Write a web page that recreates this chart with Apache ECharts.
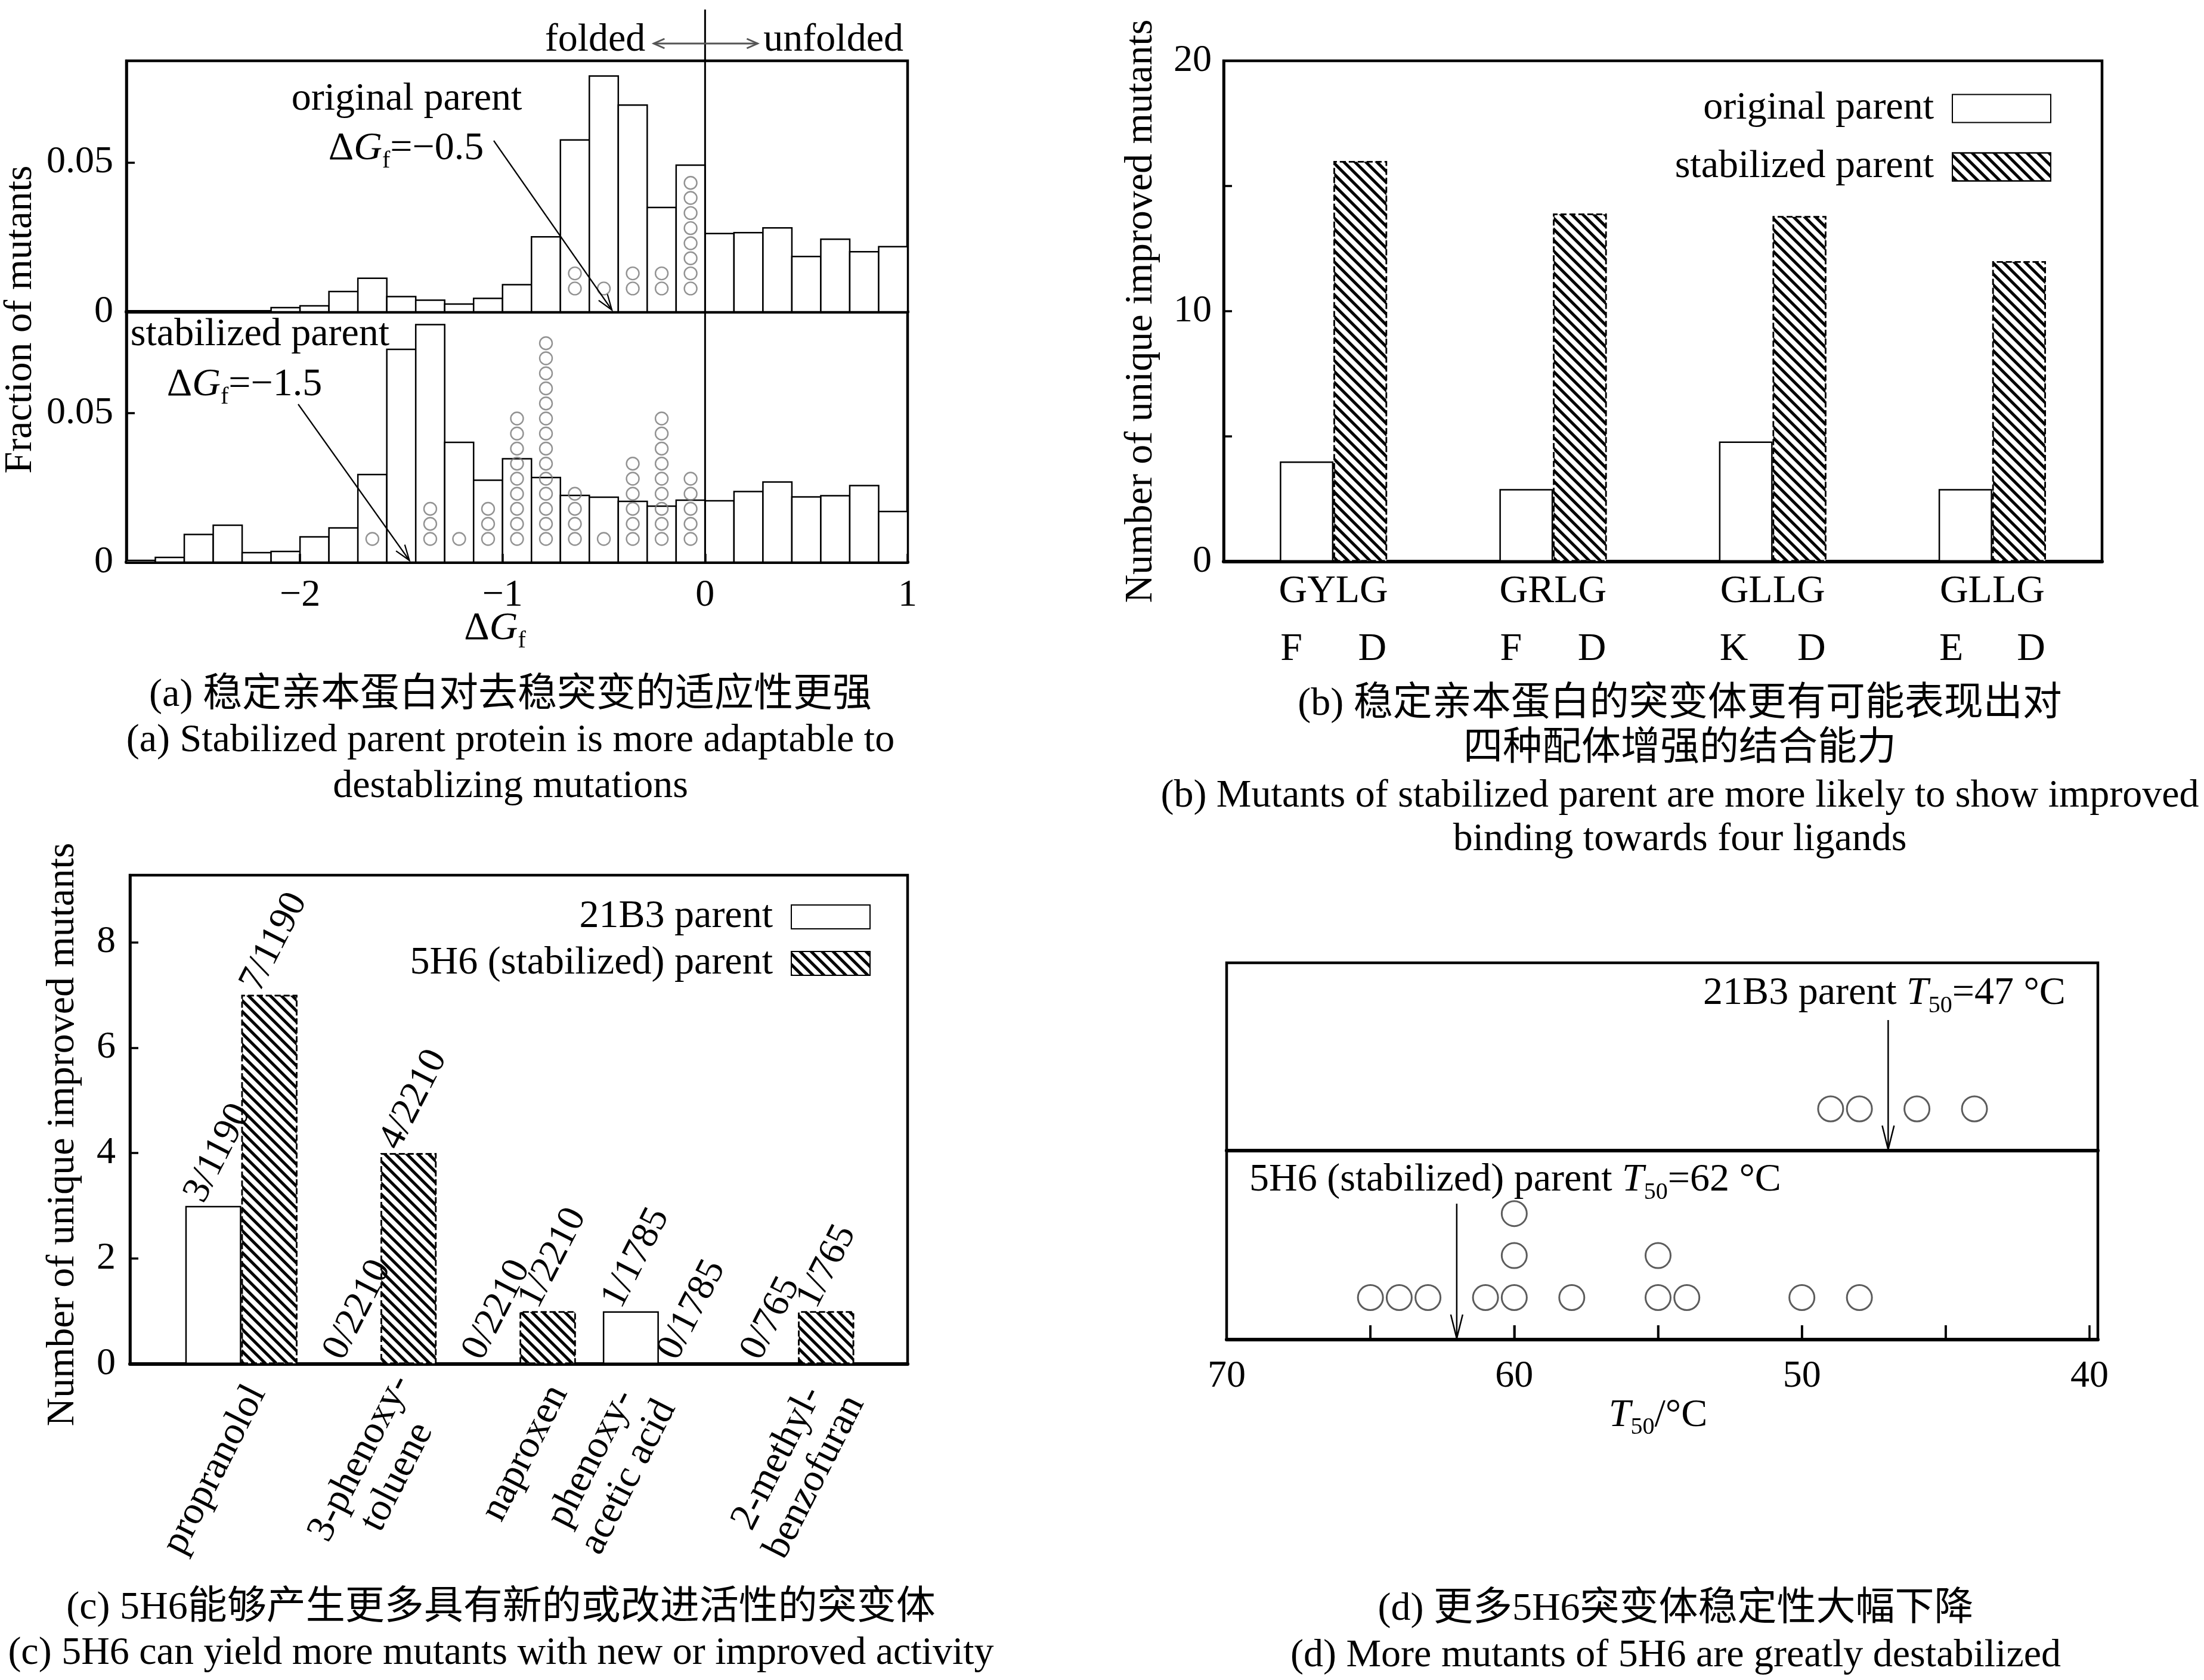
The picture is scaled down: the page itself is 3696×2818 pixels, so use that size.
<!DOCTYPE html>
<html><head><meta charset="utf-8">
<script src="https://cdn.jsdelivr.net/npm/echarts@6/dist/echarts.min.js"></script>
<style>html,body{margin:0;padding:0;background:#fff}#c{width:3696px;height:2818px}</style>
</head><body><div id="c"></div>
<script>
// ================= DATA =================
// (a) histogram: bin k covers [k/7,(k+1)/7] in ΔGf units
const binIndex = [-20,-19,-18,-17,-16,-15,-14,-13,-12,-11,-10,-9,-8,-7,-6,-5,-4,-3,-2,-1,0,1,2,3,4,5,6];
const fracOriginal   = [0,0,0,0,0,0.0014,0.0020,0.0068,0.0112,0.0051,0.0039,0.0026,0.0045,0.0091,0.0251,0.0575,0.0789,0.0692,0.0349,0.0491,0.0262,0.0265,0.0281,0.0185,0.0243,0.0201,0.0218];
const fracStabilized = [0.0006,0.0016,0.0093,0.0124,0.0032,0.0036,0.0085,0.0115,0.0294,0.0714,0.0797,0.0402,0.0275,0.0347,0.0284,0.0224,0.0218,0.0204,0.0188,0.0208,0.0206,0.0237,0.0269,0.0219,0.0223,0.0257,0.0170];
const circlesOriginal   = [0,0,0,0,0,0,0,0,0,0,0,0,0,0,0,2,1,2,2,8,0,0,0,0,0,0,0];
const circlesStabilized = [0,0,0,0,0,0,0,0,1,0,3,1,3,9,14,4,1,6,9,5,0,0,0,0,0,0,0];
const parentDG = {original: -0.46, stabilized: -1.46};

// (b)
const ligandPairs = ['GYLG','GRLG','GLLG','GLLG'];
const ligandSub = [['F','D'],['F','D'],['K','D'],['E','D']];
const originalParent   = [4, 2.9, 4.8, 2.9];
const stabilizedParent = [16, 13.9, 13.8, 12];

// (c)
const ligandsC = ['propranolol','3-phenoxy-\ntoluene','naproxen','phenoxy-\nacetic acid','2-methyl-\nbenzofuran'];
const parent21B3 = [3,0,0,1,0];
const labels21B3 = ['3/1190','0/2210','0/2210','1/1785','0/765'];
const parent5H6  = [7,4,1,0,1];
const labels5H6  = ['7/1190','4/2210','1/2210','0/1785','1/765'];

// (d)
const t50_21B3 = [49,48,46,44];
const t50_5H6  = [65,64,63,61,60,60,60,58,55,55,54,50,48];
const parentT50 = {p21B3: 47, p5H6: 62};
const dTickValues = [65,60,55,50,45];

// ================= STYLE / LAYOUT =================
const FONT = "'Liberation Serif','Times New Roman','Noto Sans CJK SC',serif";
const FS = 66, TFS = 64;
const BW = 1/7;
const A_MIN = binIndex[0]*BW, A_MAX = 1, A_TICK0 = -2;
const DOT0 = 0.0078, DOTSTEP = 0.00505;
const HATCH = {color:'#000', dashArrayX:[1,0], dashArrayY:[5,8], symbolSize:1, rotation:Math.PI/4};
// per-label nudges for the rotated (c) category labels: [rich style, extra blank lines]
const cLabelStyle = [['rp',1],['m',0],['r',0],['m2',2],['m',0]];

const histData = vals => binIndex.map((k,i)=>[k*BW,(k+1)*BW,vals[i]]);
const dotData = counts => { const o=[]; binIndex.forEach((k,i)=>{ for(let j=0;j<counts[i];j++) o.push([(k+0.5)*BW, DOT0+j*DOTSTEP]); }); return o; };
const stackDots = arr => { const seen={}; return arr.map(t=>{ seen[t]=(seen[t]||0)+1; return [t, seen[t]]; }); };

function histItem(params, api){
  const x0=api.value(0), x1=api.value(1), v=api.value(2);
  const a=api.coord([x0,v]), b=api.coord([x1,0]);
  const cs=params.coordSys;
  const r=echarts.graphic.clipRectByRect({x:a[0],y:a[1],width:b[0]-a[0],height:b[1]-a[1]},{x:cs.x,y:cs.y,width:cs.width,height:cs.height});
  if(!r) return;
  return {type:'rect', shape:r, style:{fill:'#fff', stroke:'#000', lineWidth:2.5}};
}

const A_LEFT = 212, A_W = 1310;
const aTickLeft = A_LEFT + (A_TICK0 - A_MIN)/(A_MAX - A_MIN)*A_W;
const gridBox = {show:true, borderColor:'#000', borderWidth:4.5, backgroundColor:'transparent'};
const grids = [
  Object.assign({left:A_LEFT, top:102, width:A_W, height:421}, gridBox),          //0 (a) top
  Object.assign({left:A_LEFT, top:523, width:A_W, height:420}, gridBox),          //1 (a) bottom
  Object.assign({left:2052, top:102, width:1473, height:840}, gridBox),           //2 (b)
  Object.assign({left:218, top:1468, width:1304, height:820}, gridBox),           //3 (c) frame
  {left:288, top:1468, width:1167, height:820, show:false},                       //4 (c) bars
  {left:353, top:1468, width:1167, height:820, show:false},                       //5 (c) labels
  Object.assign({left:2057, top:1615, width:1461, height:315}, gridBox),          //6 (d) top frame
  Object.assign({left:2057, top:1930, width:1461, height:317}, gridBox),          //7 (d) bottom frame
  {left:aTickLeft, top:523, width:A_LEFT + A_W - aTickLeft, height:420, show:false}, //8 (a) tick scale
  {left:2057, top:1615, width:1447, height:315, show:false},                      //9 (d) top data
  {left:2057, top:1930, width:1447, height:317, show:false}                       //10 (d) bottom data
];

const lbl = (o)=>Object.assign({fontFamily:FONT, fontSize:TFS, color:'#000'}, o||{});
const thickLine = {show:true, onZero:false, lineStyle:{color:'#000', width:6}};
const noLine = {show:false, onZero:false};
const noAx = {axisLabel:{show:false}, axisTick:{show:false}, splitLine:{show:false}};
const richSub = {
  n:{fontFamily:FONT, fontSize:FS, lineHeight:80, color:'#000'},
  i:{fontFamily:FONT, fontSize:FS, fontStyle:'italic', lineHeight:80, color:'#000'},
  s:{fontFamily:FONT, fontSize:40, lineHeight:30, verticalAlign:'bottom', color:'#000'}
};
const cTok = {fontFamily:FONT, fontSize:FS, lineHeight:70, color:'#000'};
const xTick = (len)=>({show:true, inside:true, length:len, lineStyle:{width:3.5,color:'#000'}});

function cAxisFmt(v, i){
  const st = cLabelStyle[i][0], blanks = cLabelStyle[i][1];
  let s = v.split('\n').map(t=>'{'+st+'|'+t+'}').join('\n');
  for(let k=0;k<blanks;k++) s += '\n{e| }';
  return s;
}

const xAxes = [
  Object.assign({gridIndex:0, type:'value', min:A_MIN, max:A_MAX, axisLine:thickLine}, noAx),
  Object.assign({gridIndex:1, type:'value', min:A_MIN, max:A_MAX, axisLine:thickLine,
   name:'{n|\u0394}{i|G}{s|f}', nameLocation:'middle', nameGap:72,
   nameTextStyle:{rich:richSub, padding:[0,74,0,0]}}, noAx),
  {gridIndex:2, type:'category', data:ligandPairs, axisLine:thickLine, axisTick:{show:false}, splitLine:{show:false},
   axisLabel:{interval:0, margin:2, formatter:(v,i)=>'{c|'+v+'}\n{l|'+ligandSub[i][0]+'}{r|'+ligandSub[i][1]+'}',
     rich:{c:{fontFamily:FONT,fontSize:FS,width:178,align:'center',lineHeight:97,color:'#000'},
           l:{fontFamily:FONT,fontSize:FS,width:89,align:'left',lineHeight:97,color:'#000'},
           r:{fontFamily:FONT,fontSize:FS,width:89,align:'right',lineHeight:97,color:'#000'}}}},
  Object.assign({gridIndex:3, type:'value', min:0, max:1, axisLine:thickLine}, noAx),
  {gridIndex:4, type:'category', data:ligandsC, show:false},
  {gridIndex:5, type:'category', data:ligandsC, axisLine:{show:false}, axisTick:{show:false}, splitLine:{show:false},
   axisLabel:{interval:0, rotate:63, margin:40, formatter:cAxisFmt,
     rich:{m:Object.assign({width:300, align:'center'}, cTok),
           m2:Object.assign({width:372, align:'center'}, cTok),
           r:Object.assign({}, cTok),
           rp:Object.assign({padding:[0,18,0,0]}, cTok),
           e:Object.assign({}, cTok)}}},
  Object.assign({gridIndex:6, type:'value', min:0, max:1, axisLine:thickLine}, noAx),
  Object.assign({gridIndex:7, type:'value', min:0, max:1, axisLine:thickLine}, noAx),
  {gridIndex:8, type:'value', min:A_TICK0, max:A_MAX, interval:1, z:10, axisLine:noLine, splitLine:{show:false},
   axisTick:xTick(14), axisLabel:lbl({margin:24, formatter:v=>v<0?'\u2212'+Math.abs(v):String(v)})},
  Object.assign({gridIndex:9, type:'value', min:40, max:70, inverse:true, axisLine:noLine}, noAx),
  {gridIndex:10, type:'value', min:40, max:70, interval:5, inverse:true, z:10, axisLine:noLine, splitLine:{show:false},
   axisTick:xTick(24), axisLabel:lbl({margin:30, formatter:v=>v%10===0?String(v):''}),
   name:'{i|T}{s|50}{n|/\u00b0C}', nameLocation:'middle', nameGap:82, nameTextStyle:{rich:richSub}}
];

const yTick = {show:true, inside:true, length:14, lineStyle:{width:3.5,color:'#000'}};
const yLine = {show:true, onZero:false, lineStyle:{color:'#000', width:4.5}};
const yAxes = [
  {gridIndex:0, type:'value', min:0, max:0.084, interval:0.05, axisLine:yLine, axisTick:yTick, splitLine:{show:false},
   axisLabel:lbl({margin:22, showMaxLabel:false, formatter:v=>v===0?'0':v.toFixed(2)})},
  {gridIndex:1, type:'value', min:0, max:0.084, interval:0.05, axisLine:yLine, axisTick:yTick, splitLine:{show:false},
   axisLabel:lbl({margin:22, showMaxLabel:false, formatter:v=>v===0?'0':v.toFixed(2)})},
  {gridIndex:2, type:'value', min:0, max:20, interval:5, axisLine:yLine, axisTick:yTick, splitLine:{show:false},
   axisLabel:lbl({margin:20, formatter:v=>v%10===0?String(v):''}),
   name:'Number of unique improved mutants', nameLocation:'middle', nameGap:105,
   nameTextStyle:{fontFamily:FONT, fontSize:FS, color:'#000'}},
  {gridIndex:3, type:'value', min:0, max:9.27, interval:2, axisLine:yLine, axisTick:yTick, splitLine:{show:false},
   axisLabel:lbl({margin:24, showMaxLabel:false}),
   name:'Number of unique improved mutants', nameLocation:'middle', nameGap:79,
   nameTextStyle:{fontFamily:FONT, fontSize:FS, color:'#000', padding:[0,50,0,0]}},
  {gridIndex:4, type:'value', min:0, max:9.27, show:false},
  {gridIndex:5, type:'value', min:0, max:9.27, show:false},
  {gridIndex:6, type:'value', min:0, max:1, show:false},
  {gridIndex:7, type:'value', min:0, max:1, show:false},
  {gridIndex:8, type:'value', min:0, max:1, show:false},
  {gridIndex:9, type:'value', min:0, max:4.5, show:false},
  {gridIndex:10, type:'value', min:0, max:4.5, show:false}
];

const barBase = {type:'bar', barGap:'0%'};
const whiteBar = {color:'#fff', borderColor:'#000', borderWidth:2.5};
const hatchBar = {color:'#fff', borderColor:'#000', borderWidth:2.5, borderType:[10,5], decal:HATCH};
const cLabel = (arr)=>({show:true, position:'top', distance:2, rotate:63, align:'left', verticalAlign:'middle',
  offset:[-7,-32], fontFamily:FONT, fontSize:TFS, color:'#000', formatter:p=>arr[p.dataIndex]});
const ringA = {color:'rgba(0,0,0,0)', borderColor:'#777', borderWidth:2.4};
const ringD = {color:'rgba(0,0,0,0)', borderColor:'#333', borderWidth:3};

const series = [
  {type:'custom', name:'histOriginal', xAxisIndex:0, yAxisIndex:0, renderItem:histItem, encode:{x:[0,1], y:2}, data:histData(fracOriginal), z:2},
  {type:'custom', name:'histStabilized', xAxisIndex:1, yAxisIndex:1, renderItem:histItem, encode:{x:[0,1], y:2}, data:histData(fracStabilized), z:2},
  {type:'scatter', name:'dotsOriginal', xAxisIndex:0, yAxisIndex:0, symbol:'circle', symbolSize:21, itemStyle:ringA, data:dotData(circlesOriginal), z:3},
  {type:'scatter', name:'dotsStabilized', xAxisIndex:1, yAxisIndex:1, symbol:'circle', symbolSize:21, itemStyle:ringA, data:dotData(circlesStabilized), z:3},
  Object.assign({name:'original parent', xAxisIndex:2, yAxisIndex:2, barWidth:90, itemStyle:whiteBar, data:originalParent}, barBase),
  Object.assign({name:'stabilized parent', xAxisIndex:2, yAxisIndex:2, barWidth:90, itemStyle:hatchBar, data:stabilizedParent}, barBase),
  Object.assign({name:'21B3 parent', xAxisIndex:4, yAxisIndex:4, barWidth:94, itemStyle:whiteBar, data:parent21B3, label:cLabel(labels21B3)}, barBase),
  Object.assign({name:'5H6 (stabilized) parent', xAxisIndex:4, yAxisIndex:4, barWidth:94, itemStyle:hatchBar, data:parent5H6, label:cLabel(labels5H6)}, barBase),
  {type:'scatter', name:'t50_21B3', xAxisIndex:9, yAxisIndex:9, symbol:'circle', symbolSize:42, itemStyle:ringD, data:stackDots(t50_21B3)},
  {type:'scatter', name:'t50_5H6', xAxisIndex:10, yAxisIndex:10, symbol:'circle', symbolSize:42, itemStyle:ringD, data:stackDots(t50_5H6)}
];

const legendBase = {orient:'vertical', align:'right', icon:'rect', selectedMode:false,
  textStyle:{fontFamily:FONT, fontSize:FS, color:'#000', padding:[0,26,0,0]}};
const legends = [
  Object.assign({data:['original parent','stabilized parent'], right:251, top:144, itemWidth:165, itemHeight:47, itemGap:32}, legendBase),
  Object.assign({data:['21B3 parent','5H6 (stabilized) parent'], right:2231, top:1500, itemWidth:132, itemHeight:40, itemGap:12}, legendBase)
];

const chart = echarts.init(document.getElementById('c'), null, {width:3696, height:2818});
chart.setOption({
  animation:false, backgroundColor:'#fff',
  grid:grids, xAxis:xAxes, yAxis:yAxes, series:series, legend:legends
});

// ================= ANNOTATIONS =================
const G = [];
function T(x,y,text,o){ G.push({type:'text', x, y, z:100, rotation:(o&&o.rotation)||0,
  style:Object.assign({text, fontFamily:FONT, fontSize:FS, fill:'#000', align:'center', verticalAlign:'middle', rich:richSub}, (o&&o.style)||{})}); }
function arrow(x1,y1,x2,y2,color,w,head,half,both){
  color=color||'#000'; w=w||2.2; head=head||26; half=half||9;
  G.push({type:'line', z:100, shape:{x1,y1,x2,y2}, style:{stroke:color,lineWidth:w}});
  const mk=(ax,ay,bx2,by2)=>{ const ang=Math.atan2(by2-ay,bx2-ax); const bx=bx2-head*Math.cos(ang), by=by2-head*Math.sin(ang);
    const nx=-Math.sin(ang), ny=Math.cos(ang);
    G.push({type:'polyline', z:100, shape:{points:[[bx+nx*half,by+ny*half],[bx2,by2],[bx-nx*half,by-ny*half]]}, style:{stroke:color,lineWidth:w,fill:null}}); };
  mk(x1,y1,x2,y2); if(both) mk(x2,y2,x1,y1);
}
const px = (xi, yi, pt) => chart.convertToPixel({xAxisIndex:xi, yAxisIndex:yi}, pt);

// (a)
const z0 = px(0,0,[0,0]);
const zBot = px(1,1,[0,0]);
G.push({type:'line', z:100, shape:{x1:z0[0], y1:16, x2:z0[0], y2:zBot[1]}, style:{stroke:'#000', lineWidth:3}});
T(z0[0]-100, 68, 'folded', {style:{align:'right'}});
T(z0[0]+98, 68, 'unfolded', {style:{align:'left'}});
arrow(z0[0]-86, 73, z0[0]+88, 73, '#555', 3, 18, 8, true);
T(682, 167, 'original parent');
T(681, 250, '{n|\u0394}{i|G}{s|f}{n|=\u22120.5}');
const tipA = px(0,0,[parentDG.original,0]);
arrow(828, 236, tipA[0], tipA[1]-3);
T(436, 562, 'stabilized parent');
T(410, 646, '{n|\u0394}{i|G}{s|f}{n|=\u22121.5}');
const tipB = px(1,1,[parentDG.stabilized,0]);
arrow(500, 678, tipB[0], tipB[1]-3);
T(35, 536, 'Fraction of mutants', {rotation:Math.PI/2});

// (d)
dTickValues.forEach(v=>{ const p = px(10,10,[v,0]);
  G.push({type:'line', z:90, shape:{x1:p[0], y1:p[1]-2, x2:p[0], y2:p[1]-24}, style:{stroke:'#000', lineWidth:3.5}}); });
const a47 = px(9,9,[parentT50.p21B3,0]);
arrow(a47[0], 1711, a47[0], a47[1]-2, '#000', 2.5, 40, 10);
const a62 = px(10,10,[parentT50.p5H6,0]);
arrow(a62[0], 2019, a62[0], a62[1]-2, '#000', 2.5, 40, 10);
T(3160, 1667, '{n|21B3 parent }{i|T}{s|50}{n|=47 \u00b0C}');
T(2541, 1980, '{n|5H6 (stabilized) parent }{i|T}{s|50}{n|=62 \u00b0C}');

// captions
const captionText = [
 '(a) 稳定亲本蛋白对去稳突变的适应性更强',
 '(a) Stabilized parent protein is more adaptable to',
 'destablizing mutations',
 '(b) 稳定亲本蛋白的突变体更有可能表现出对',
 '四种配体增强的结合能力',
 '(b) Mutants of stabilized parent are more likely to show improved',
 'binding towards four ligands',
 '(c) 5H6能够产生更多具有新的或改进活性的突变体',
 '(c) 5H6 can yield more mutants with new or improved activity',
 '(d) 更多5H6突变体稳定性大幅下降',
 '(d) More mutants of 5H6 are greatly destabilized'
];
const captionPos = [[856,1167],[856,1243],[856,1320],[2817,1182],[2817,1257],[2817,1336],[2817,1409],[840,2698],[840,2774],[2810,2700],[2810,2778]];
captionText.forEach((t,i)=>T(captionPos[i][0], captionPos[i][1], t, {style:{rich:null}}));

chart.setOption({graphic:{elements:G}});
</script>
</body></html>
